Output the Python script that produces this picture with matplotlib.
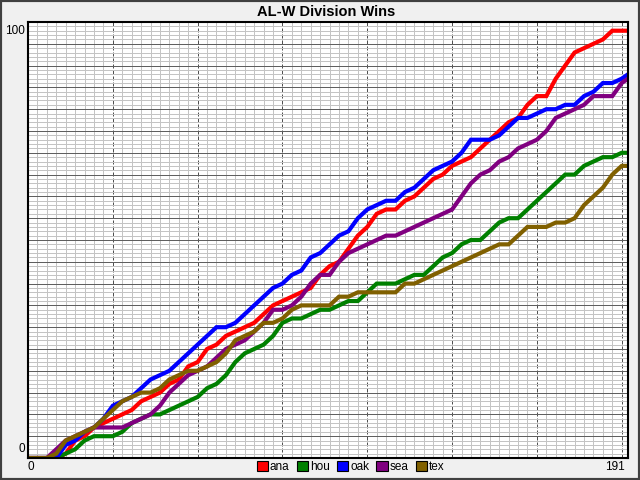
import matplotlib
matplotlib.use("Agg")
import matplotlib.pyplot as plt
from matplotlib.patches import Patch, Rectangle

# day of season, sampled every 3 days (plus the last day)
days = list(range(0, 190, 3)) + [191]

ana = [0, 0, 0, 0, 1, 4, 5, 7, 8, 9,
       10, 11, 13, 14, 15, 17, 18, 21, 22, 25,
       26, 28, 29, 30, 31, 33, 35, 36, 37, 38,
       39, 42, 44, 45, 48, 51, 53, 56, 57, 57,
       59, 60, 62, 64, 65, 67, 68, 69, 71, 73,
       75, 77, 78, 81, 83, 83, 87, 90, 93, 94,
       95, 96, 98, 98, 98]
hou = [0, 0, 0, 0, 1, 2, 4, 5, 5, 5,
       6, 8, 9, 10, 10, 11, 12, 13, 14, 16,
       17, 19, 22, 24, 25, 26, 28, 31, 32, 32,
       33, 34, 34, 35, 36, 36, 38, 40, 40, 40,
       41, 42, 42, 44, 46, 47, 49, 50, 50, 52,
       54, 55, 55, 57, 59, 61, 63, 65, 65, 67,
       68, 69, 69, 70, 70]
oak = [0, 0, 0, 0, 3, 4, 6, 7, 9, 12,
       13, 14, 16, 18, 19, 20, 22, 24, 26, 28,
       30, 30, 31, 33, 35, 37, 39, 40, 42, 43,
       46, 47, 49, 51, 52, 55, 57, 58, 59, 59,
       61, 62, 64, 66, 67, 68, 70, 73, 73, 73,
       74, 76, 78, 78, 79, 80, 80, 81, 81, 83,
       84, 86, 86, 87, 88]
sea = [0, 0, 0, 2, 4, 5, 6, 7, 7, 7,
       7, 8, 9, 10, 12, 15, 17, 19, 20, 21,
       23, 25, 26, 27, 29, 31, 34, 34, 35, 37,
       40, 42, 42, 45, 47, 48, 49, 50, 51, 51,
       52, 53, 54, 55, 56, 57, 60, 63, 65, 66,
       68, 69, 71, 72, 73, 75, 78, 79, 80, 81,
       83, 83, 83, 86, 87]
tex = [0, 0, 0, 1, 4, 5, 6, 7, 9, 11,
       13, 14, 15, 15, 16, 18, 19, 20, 20, 21,
       22, 24, 27, 28, 29, 31, 31, 32, 34, 35,
       35, 35, 35, 37, 37, 38, 38, 38, 38, 38,
       40, 40, 41, 42, 43, 44, 45, 46, 47, 48,
       49, 49, 51, 53, 53, 53, 54, 54, 55, 58,
       60, 62, 65, 67, 67]

teams = ['ana', 'hou', 'oak', 'sea', 'tex']
series = [ana, hou, oak, sea, tex]
colors = ['#ff0000', '#008000', '#0000ff', '#800080', '#806000']

fig = plt.figure(figsize=(6.4, 4.8), dpi=100, facecolor='#f0f0f0')
ax = fig.add_axes([28 / 640, 22 / 480, 600 / 640, 436 / 480])
ax.set_facecolor('white')

# grid
ax.set_xlim(0, 191)
ax.set_ylim(0, 100)
ax.set_xticks(range(27, 191, 27))
ax.set_xticks(range(0, 192, 3), minor=True)
ax.set_yticks(range(0, 101, 5))
ax.set_yticks(range(0, 101, 1), minor=True)
ax.grid(True, which='minor', color='#c4c4c4', lw=0.72)
ax.xaxis.grid(True, which='major', color='#505050', lw=0.72,
              linestyle=(0, (4, 2)))
ax.yaxis.grid(True, which='major', color='#606060', lw=0.72, linestyle='-')
ax.set_axisbelow(True)
ax.tick_params(which='both', length=0, labelbottom=False, labelleft=False)
for s in ax.spines.values():
    s.set_color('black')
    s.set_linewidth(1.5)

for name, vals, c in zip(teams, series, colors):
    ax.plot(days, vals, color=c, lw=3, label=name, solid_joinstyle='miter')

# axis end labels
lab = dict(fontsize=8.5, family='Liberation Sans')
ax.annotate('100', xy=(0, 100), xycoords='data', xytext=(-2, -2),
            textcoords='offset points', ha='right', va='top', **lab)
ax.annotate('0', xy=(0, 0), xycoords='data', xytext=(-2, 2),
            textcoords='offset points', ha='right', va='bottom', **lab)
ax.annotate('0', xy=(0, 0), xycoords='data', xytext=(0, -2),
            textcoords='offset points', ha='left', va='top', **lab)
ax.annotate('191', xy=(191, 0), xycoords='data', xytext=(-2, -2),
            textcoords='offset points', ha='right', va='top', **lab)

fig.text(326 / 640, 1 - 12.5 / 480, 'AL-W Division Wins', fontsize=10.5,
         fontweight='bold', family='Liberation Sans', ha='center', va='center')

handles = [Patch(facecolor=c, edgecolor='black', lw=0.8) for c in colors]
fig.legend(handles, teams, loc='center left', bbox_to_anchor=(257 / 640, 13 / 480),
           ncol=5, frameon=False, handlelength=0.95, handleheight=0.95,
           handletextpad=0.15, columnspacing=0.62, borderpad=0, borderaxespad=0,
           prop={'family': 'Liberation Sans', 'size': 8.5})

# window frame
fig.patches.append(Rectangle((0, 0), 1, 1, transform=fig.transFigure, fill=False,
                             edgecolor='#404040', lw=3))

fig.savefig('out.png', dpi=100, facecolor=fig.get_facecolor())
